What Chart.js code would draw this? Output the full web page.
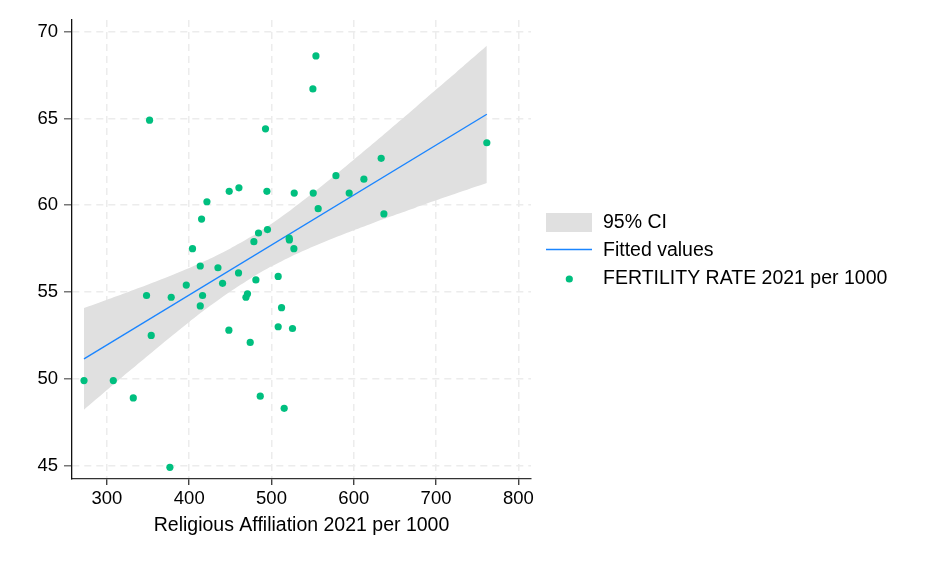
<!DOCTYPE html>
<html>
<head>
<meta charset="utf-8">
<script src="https://cdn.jsdelivr.net/npm/chart.js@4.4.1/dist/chart.umd.min.js"></script>
<style>
    html, body { margin: 0; padding: 0; background: #fff; }
    #wrap { width: 936px; height: 562px; }
</style>
</head>
<body>
<div id="wrap"><canvas id="scatterChart"></canvas></div>
<script>
// Religious Affiliation 2021 per 1000 (x) vs FERTILITY RATE 2021 per 1000 (y)
const religion = [
    351.8, 492.7, 421.5, 415.0, 404.0, 448.6, 460.4, 494.4, 527.6, 478.6,
    484.2, 495.1, 521.5, 521.7, 527.2, 554.0, 550.3, 761.7, 633.3, 578.3,
    612.3, 550.7, 594.4, 556.7, 636.6, 413.4, 434.9, 459.9, 396.4, 440.5,
    481.0, 348.1, 378.1, 416.2, 413.4, 470.8, 468.9, 508.1, 512.2, 508.1,
    525.5, 448.2, 474.1, 353.8, 272.1, 307.7, 332.0, 486.3, 515.4, 376.5
];
const fertility = [
    64.9, 64.4, 60.2, 59.2, 57.5, 60.8, 61.0, 60.8, 60.7, 57.9,
    58.4, 58.6, 58.1, 58.0, 57.5, 68.6, 66.7, 63.6, 62.7, 61.7,
    61.5, 60.7, 60.7, 59.8, 59.5, 56.5, 56.4, 56.1, 55.4, 55.5,
    55.7, 54.8, 54.7, 54.8, 54.2, 54.9, 54.7, 55.9, 54.1, 53.0,
    52.9, 52.8, 52.1, 52.5, 49.9, 49.9, 48.9, 49.0, 48.3, 44.9
];

// fitted line ends
const fitX = [272.1, 761.7];
const fitY = [51.15, 65.24];

// 95% CI band edges
const ciX = [272.1, 300, 325, 350, 375, 400, 425, 450, 475, 500,
             525, 550, 575, 600, 625, 650, 675, 700, 725, 761.7];
const ciUpper = [54.08, 54.56, 54.99, 55.43, 55.89, 56.38, 56.91, 57.51, 58.18, 58.94,
                 59.79, 60.69, 61.64, 62.62, 63.61, 64.62, 65.63, 66.66, 67.68, 69.19];
const ciLower = [48.22, 49.35, 50.36, 51.35, 52.33, 53.28, 54.19, 55.03, 55.80, 56.48,
                 57.08, 57.61, 58.10, 58.56, 59.01, 59.44, 59.86, 60.28, 60.69, 61.28];

const xTicks = [300, 400, 500, 600, 700, 800];
const yTicks = [45, 50, 55, 60, 65, 70];

const legendLabels = ['95% CI', 'Fitted values', 'FERTILITY RATE 2021 per 1000'];

const FONT = 'Liberation Sans, Arial, Helvetica, sans-serif';
const GREEN = 'rgb(0, 191, 127)';
const BLUE = 'rgb(26, 133, 255)';
const BAND = 'rgb(224, 224, 224)';
const GRID = 'rgb(236, 236, 236)';

const toXY = (xs, ys) => xs.map((x, i) => ({ x: x, y: ys[i] }));

const legendPlugin = {
    id: 'sideLegend',
    afterDraw(chart) {
        const ctx = chart.ctx;
        ctx.save();
        ctx.font = '19.5px ' + FONT;
        ctx.textBaseline = 'middle';
        ctx.textAlign = 'left';

        ctx.fillStyle = BAND;
        ctx.fillRect(546, 213, 46, 19);

        ctx.strokeStyle = BLUE;
        ctx.lineWidth = 1.4;
        ctx.beginPath();
        ctx.moveTo(546, 249.5);
        ctx.lineTo(592, 249.5);
        ctx.stroke();

        ctx.fillStyle = GREEN;
        ctx.beginPath();
        ctx.arc(569.3, 279, 3.6, 0, Math.PI * 2);
        ctx.fill();

        ctx.fillStyle = '#000';
        ctx.fillText(legendLabels[0], 603, 223);
        ctx.fillText(legendLabels[1], 603, 251);
        ctx.fillText(legendLabels[2], 603, 279);
        ctx.restore();
    }
};

const config = {
    type: 'scatter',
    data: {
        datasets: [
            {
                label: legendLabels[2],
                data: toXY(religion, fertility),
                backgroundColor: GREEN,
                borderWidth: 0,
                pointRadius: 3.6,
                order: 0
            },
            {
                type: 'line',
                label: legendLabels[1],
                data: toXY(fitX, fitY),
                borderColor: BLUE,
                borderWidth: 1.4,
                pointRadius: 0,
                fill: false,
                order: 1
            },
            {
                type: 'line',
                label: legendLabels[0],
                data: toXY(ciX, ciUpper),
                borderWidth: 0,
                borderColor: 'rgba(0,0,0,0)',
                backgroundColor: BAND,
                pointRadius: 0,
                tension: 0.2,
                fill: '+1',
                order: 2
            },
            {
                type: 'line',
                label: 'lower',
                data: toXY(ciX, ciLower),
                borderWidth: 0,
                borderColor: 'rgba(0,0,0,0)',
                pointRadius: 0,
                tension: 0.2,
                fill: false,
                order: 3
            }
        ]
    },
    options: {
        responsive: true,
        maintainAspectRatio: false,
        animation: false,
        layout: {
            padding: { left: 0, top: 20, right: 405, bottom: 0 }
        },
        plugins: {
            legend: { display: false },
            tooltip: { enabled: false }
        },
        scales: {
            x: {
                type: 'linear',
                min: 257.5,
                max: 815.4,
                afterBuildTicks: (scale) => {
                    scale.ticks = xTicks.map(v => ({ value: v }));
                },
                afterFit: (scale) => { scale.height = 83; },
                grid: {
                    color: GRID,
                    lineWidth: 1.5,
                    tickLength: 6,
                    tickColor: '#222',
                    tickWidth: 1.2
                },
                border: {
                    display: true,
                    color: '#333',
                    width: 1.3,
                    dash: [7, 5]
                },
                ticks: {
                    color: '#000',
                    padding: 3,
                    maxRotation: 0,
                    font: { family: FONT, size: 18.5 }
                },
                title: {
                    display: true,
                    text: 'Religious Affiliation 2021 per 1000',
                    color: '#000',
                    padding: { top: 0, bottom: 25 },
                    font: { family: FONT, size: 19.5 }
                }
            },
            y: {
                type: 'linear',
                min: 44.23,
                max: 70.67,
                afterBuildTicks: (scale) => {
                    scale.ticks = yTicks.map(v => ({ value: v }));
                },
                afterFit: (scale) => { scale.width = 72; },
                grid: {
                    color: GRID,
                    lineWidth: 1.5,
                    tickLength: 8,
                    tickColor: '#777',
                    tickWidth: 1.5
                },
                border: {
                    display: true,
                    color: '#111',
                    width: 1.3,
                    dash: [7, 5]
                },
                ticks: {
                    color: '#000',
                    padding: 6,
                    font: { family: FONT, size: 18.5 }
                }
            }
        }
    },
    plugins: [legendPlugin]
};

window.onload = function () {
    const ctx = document.getElementById('scatterChart').getContext('2d');
    new Chart(ctx, config);
};
</script>
</body>
</html>
